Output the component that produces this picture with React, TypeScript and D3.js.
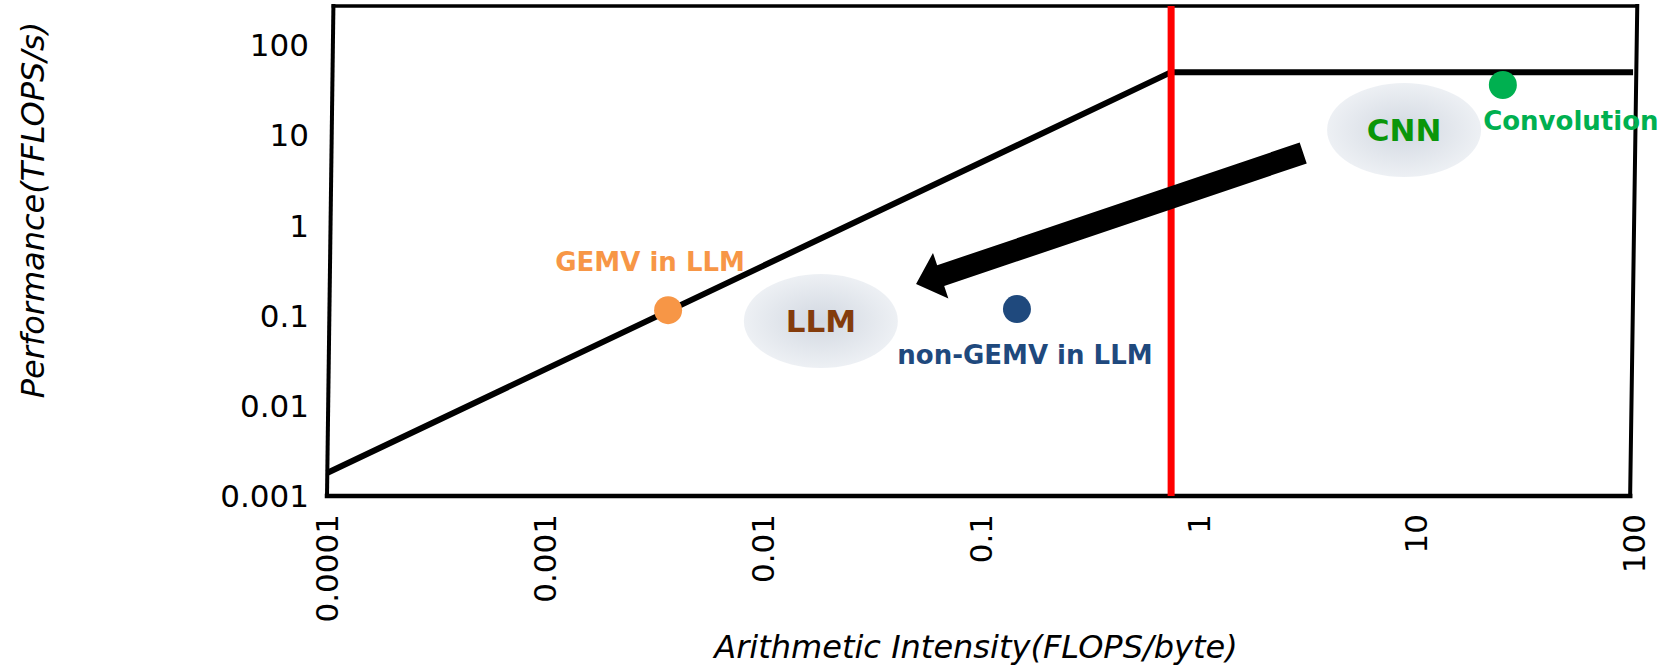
import React, { useEffect, useRef } from 'react';
import * as d3 from 'd3';

// axis ticks
const xTicks = [0.0001, 0.001, 0.01, 0.1, 1, 10, 100];
const xTickLabels = ['0.0001', '0.001', '0.01', '0.1', '1', '10', '100'];
const yTicks = [0.001, 0.01, 0.1, 1, 10, 100];
const yTickLabels = ['0.001', '0.01', '0.1', '1', '10', '100'];

// hand drawn frame (bottom-left, top-left, top-right, bottom-right)
const frameX = [0.0001, 0.000107, 103.5, 96];
const frameY = [0.001, 270, 270, 0.001];

// roofline: memory slope then compute roof
const roofX = [0.0001, 0.75, 99];
const roofY = [0.0018, 50, 50];
const ridgeX = 0.75;

// kernels
const pointNames = ['GEMV in LLM', 'non-GEMV in LLM', 'Convolution'];
const pointX = [0.00368, 0.147, 25];
const pointY = [0.115, 0.118, 36];
const pointColors = ['#f79646', '#1f497d', '#00b050'];
const labelDx = [-18, 8, 68];
const labelDy = [-39, 55, 45];

// workloads
const clusterNames = ['LLM', 'CNN'];
const clusterX = [0.0185, 8.8];
const clusterY = [0.087, 11.4];
const clusterColors = ['#843c0c', '#0a960a'];

// shift arrow CNN -> LLM
const arrowFrom = [3.03, 6.35];
const arrowTo = [0.0506, 0.224];

const Roofline: React.FC = () => {
  const width = 1665;
  const height = 666;
  const svgRef = useRef<SVGSVGElement>(null);

  useEffect(() => {
    if (!svgRef.current) return;
    const svg = d3.select(svgRef.current);
    svg.selectAll('*').remove();

    const x = d3.scaleLog().domain([0.0001, 100]).range([327, 1634]);
    const y = d3.scaleLog().domain([0.001, 100]).range([496, 45]);
    const font = "'DejaVu Sans', Verdana, sans-serif";

    const defs = svg.append('defs');
    const grad = defs.append('radialGradient').attr('id', 'blob');
    grad.append('stop').attr('offset', '0%').attr('stop-color', '#d2d8e1');
    grad.append('stop').attr('offset', '100%').attr('stop-color', '#edf0f4');

    // frame
    const fx = frameX.map(v => x(v));
    const fy = frameY.map(v => y(v));
    const edges: [number, number, number][] = [[0, 1, 4], [1, 2, 3.5], [2, 3, 4], [3, 0, 4.5]];
    edges.forEach(([a, b, w]) => {
      svg.append('line')
        .attr('x1', fx[a]).attr('y1', fy[a])
        .attr('x2', fx[b]).attr('y2', fy[b])
        .attr('stroke', '#000').attr('stroke-width', w)
        .attr('stroke-linecap', 'square');
    });

    // roofline
    const line = d3.line<number>()
      .x(i => x(roofX[i]))
      .y(i => y(roofY[i]));
    svg.append('path')
      .attr('d', line(d3.range(roofX.length)))
      .attr('fill', 'none')
      .attr('stroke', '#000')
      .attr('stroke-width', 6);

    // ridge point marker
    svg.append('line')
      .attr('x1', x(ridgeX)).attr('x2', x(ridgeX))
      .attr('y1', y(270)).attr('y2', y(0.001))
      .attr('stroke', '#ff0000').attr('stroke-width', 7);

    // clusters
    clusterNames.forEach((name, i) => {
      svg.append('ellipse')
        .attr('cx', x(clusterX[i])).attr('cy', y(clusterY[i]))
        .attr('rx', 77).attr('ry', 47)
        .attr('fill', 'url(#blob)');
      svg.append('text')
        .attr('x', x(clusterX[i])).attr('y', y(clusterY[i]) + 11)
        .attr('text-anchor', 'middle')
        .attr('font-family', font).attr('font-weight', 'bold')
        .attr('font-size', 31)
        .attr('fill', clusterColors[i])
        .text(name);
    });

    // arrow
    const x0 = x(arrowFrom[0]), y0 = y(arrowFrom[1]);
    const x1 = x(arrowTo[0]), y1 = y(arrowTo[1]);
    const len = Math.hypot(x1 - x0, y1 - y0);
    const ux = (x1 - x0) / len, uy = (y1 - y0) / len;
    const nx = -uy, ny = ux;
    const hw = 11, headLen = 26, headHw = 24;
    const bx = x1 - ux * headLen, by = y1 - uy * headLen;
    const pts: [number, number][] = [
      [x0 + nx * hw, y0 + ny * hw],
      [bx + nx * hw, by + ny * hw],
      [bx + nx * headHw, by + ny * headHw],
      [x1, y1],
      [bx - nx * headHw, by - ny * headHw],
      [bx - nx * hw, by - ny * hw],
      [x0 - nx * hw, y0 - ny * hw],
    ];
    svg.append('path')
      .attr('d', 'M' + pts.map(p => p.join(',')).join('L') + 'Z')
      .attr('fill', '#000');

    // kernel points
    pointNames.forEach((name, i) => {
      svg.append('circle')
        .attr('cx', x(pointX[i])).attr('cy', y(pointY[i]))
        .attr('r', 14)
        .attr('fill', pointColors[i]);
      svg.append('text')
        .attr('x', x(pointX[i]) + labelDx[i]).attr('y', y(pointY[i]) + labelDy[i])
        .attr('text-anchor', 'middle')
        .attr('font-family', font).attr('font-weight', 'bold')
        .attr('font-size', 26)
        .attr('fill', pointColors[i])
        .text(name);
    });

    // y tick labels
    svg.append('g').selectAll('text')
      .data(yTicks)
      .enter()
      .append('text')
      .attr('x', 309)
      .attr('y', d => y(d))
      .attr('dy', '0.36em')
      .attr('text-anchor', 'end')
      .attr('font-family', font)
      .attr('font-size', 31)
      .text((d, i) => yTickLabels[i]);

    // x tick labels (rotated)
    svg.append('g').selectAll('text')
      .data(xTicks)
      .enter()
      .append('text')
      .attr('transform', d => `translate(${x(d)},514) rotate(-90)`)
      .attr('dy', '0.36em')
      .attr('text-anchor', 'end')
      .attr('font-family', font)
      .attr('font-size', 31)
      .text((d, i) => xTickLabels[i]);

    // axis titles
    svg.append('text')
      .attr('x', 976).attr('y', 658)
      .attr('text-anchor', 'middle')
      .attr('font-family', font).attr('font-style', 'italic')
      .attr('font-size', 32)
      .text('Arithmetic Intensity(FLOPS/byte)');

    svg.append('text')
      .attr('transform', 'translate(32,210) rotate(-90)')
      .attr('dy', '0.36em')
      .attr('text-anchor', 'middle')
      .attr('font-family', font).attr('font-style', 'italic')
      .attr('font-size', 32)
      .text('Performance(TFLOPS/s)');
  }, []);

  return (
    <svg ref={svgRef} width={width} height={height}
      style={{ position: 'absolute', left: 0, top: 0, background: '#fff' }}></svg>
  );
};

export default function App() {
  return <Roofline />;
}
